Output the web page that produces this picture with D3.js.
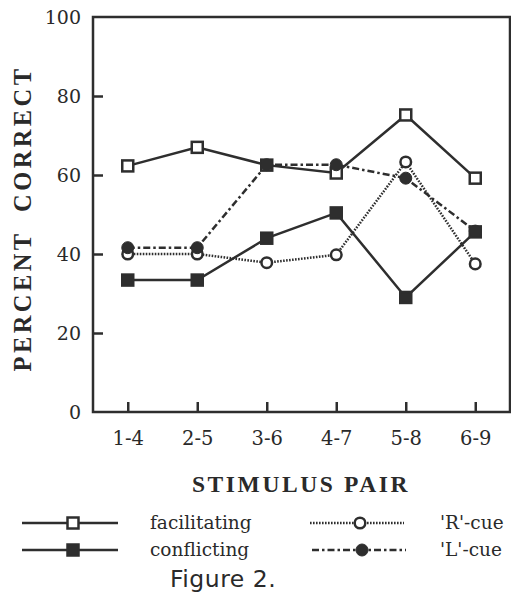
<!DOCTYPE html>
<html>
<head>
<meta charset="utf-8">
<script src="https://cdn.jsdelivr.net/npm/d3@7"></script>
<style>
  body { margin: 0; background: #fff; }
  text { fill: #2a2a2a; }
</style>
</head>
<body>
<div id="chart"></div>
<script>
const pairs = ["1-4", "2-5", "3-6", "4-7", "5-8", "6-9"];
const facilitating = [62.3, 67, 62.5, 60.5, 75.2, 59.2];
const conflicting = [33.4, 33.4, 44, 50.4, 29, 45.6];
const rCue = [40, 40, 37.8, 39.8, 63.3, 37.5];
const lCue = [41.6, 41.6, 62.6, 62.6, 59.2, 45.8];
const yTicks = [0, 20, 40, 60, 80, 100];

const ink = "#2e2e2e";
const serif = "'DejaVu Serif', serif";
const times = "'Liberation Serif', serif";
const width = 511, height = 596;
const margin = {top: 17, right: 1, bottom: 184, left: 93};

const svg = d3.select("#chart").append("svg")
    .attr("width", width)
    .attr("height", height);

const x = d3.scalePoint()
    .domain(pairs)
    .range([margin.left, width - margin.right])
    .padding(0.5);

const y = d3.scaleLinear()
    .domain([0, 100])
    .range([height - margin.bottom, margin.top]);

// y axis, ticks pointing into the plot
const yAxis = svg.append("g")
    .attr("transform", `translate(${margin.left},0)`)
    .call(d3.axisLeft(y).tickValues(yTicks).tickSize(-10).tickPadding(12));
yAxis.select(".domain").remove();
yAxis.selectAll(".tick line")
    .attr("stroke", ink)
    .attr("stroke-width", 2.5)
    .filter(d => d === 0 || d === 100).remove();
yAxis.selectAll(".tick text")
    .attr("font-family", serif)
    .attr("font-size", 19)
    .attr("fill", ink);

const xAxis = svg.append("g")
    .attr("transform", `translate(0,${height - margin.bottom})`)
    .call(d3.axisBottom(x).tickSize(-10).tickPadding(19));
xAxis.select(".domain").remove();
xAxis.selectAll(".tick line")
    .attr("stroke", ink)
    .attr("stroke-width", 2.5);
xAxis.selectAll(".tick text")
    .attr("font-family", serif)
    .attr("font-size", 19.5)
    .attr("fill", ink);

// frame
svg.append("rect")
    .attr("x", margin.left)
    .attr("y", margin.top)
    .attr("width", width - margin.right - margin.left)
    .attr("height", height - margin.bottom - margin.top)
    .attr("fill", "none")
    .attr("stroke", ink)
    .attr("stroke-width", 2.5);

const series = [
    {name: "facilitating", values: facilitating, dash: null, marker: "square", fill: "#fff"},
    {name: "conflicting", values: conflicting, dash: null, marker: "square", fill: ink},
    {name: "'R'-cue", values: rCue, dash: "1.6,1.4", marker: "circle", fill: "#fff"},
    {name: "'L'-cue", values: lCue, dash: "7,3,2.5,3", marker: "circle", fill: ink}
];

const line = d3.line()
    .x((d, i) => x(pairs[i]))
    .y(d => y(d));

for (const s of series) {
    svg.append("path")
        .datum(s.values)
        .attr("d", line)
        .attr("fill", "none")
        .attr("stroke", ink)
        .attr("stroke-width", 2.5)
        .attr("stroke-dasharray", s.dash);
}

function drawMarker(g, type, fill, cx, cy) {
    if (type === "square") {
        g.append("rect")
            .attr("x", cx - 5.5)
            .attr("y", cy - 5.5)
            .attr("width", 11)
            .attr("height", 11)
            .attr("fill", fill)
            .attr("stroke", ink)
            .attr("stroke-width", 2.5);
    } else {
        g.append("circle")
            .attr("cx", cx)
            .attr("cy", cy)
            .attr("r", fill === ink ? 6 : 5.3)
            .attr("fill", fill)
            .attr("stroke", ink)
            .attr("stroke-width", fill === ink ? 1 : 2.5);
    }
}

const markers = svg.append("g");
for (const s of series) {
    s.values.forEach((v, i) => drawMarker(markers, s.marker, s.fill, x(pairs[i]), y(v)));
}

// axis titles
svg.append("text")
    .attr("transform", `translate(31,${(y(0) + y(100)) / 2 + 4}) rotate(-90)`)
    .attr("text-anchor", "middle")
    .attr("font-family", times)
    .attr("font-weight", "bold")
    .attr("font-size", 24.5)
    .attr("letter-spacing", 3.4)
    .style("white-space", "pre")
    .text("PERCENT  CORRECT");

svg.append("text")
    .attr("x", 301)
    .attr("y", 492)
    .attr("text-anchor", "middle")
    .attr("font-family", times)
    .attr("font-weight", "bold")
    .attr("font-size", 23.5)
    .attr("letter-spacing", 2.6)
    .text("STIMULUS PAIR");

// legend
const legend = [
    {s: series[0], x0: 22, x1: 118, tx: 150, ly: 523},
    {s: series[1], x0: 22, x1: 118, tx: 150, ly: 550},
    {s: series[2], x0: 310, x1: 404, tx: 440, ly: 523},
    {s: series[3], x0: 312, x1: 406, tx: 440, ly: 550}
];
for (const l of legend) {
    svg.append("line")
        .attr("x1", l.x0).attr("x2", l.x1)
        .attr("y1", l.ly).attr("y2", l.ly)
        .attr("stroke", ink)
        .attr("stroke-width", 2.5)
        .attr("stroke-dasharray", l.s.dash);
    drawMarker(svg, l.s.marker, l.s.fill, (l.x0 + l.x1) / 2 + 3, l.ly);
    svg.append("text")
        .attr("x", l.tx)
        .attr("y", l.ly + 6)
        .attr("font-family", serif)
        .attr("font-size", 18.5)
        .text(l.s.name);
}

svg.append("text")
    .attr("x", 170)
    .attr("y", 587)
    .attr("font-family", "'DejaVu Sans', sans-serif")
    .attr("font-size", 23.5)
    .attr("letter-spacing", 0.5)
    .text("Figure 2.");
</script>
</body>
</html>
